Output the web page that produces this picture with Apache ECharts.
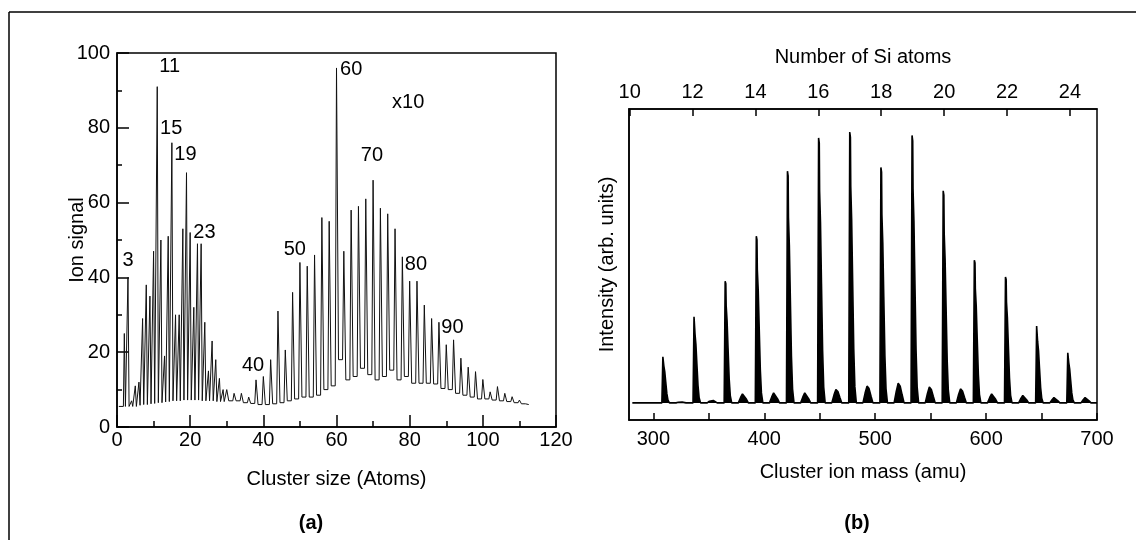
<!DOCTYPE html>
<html>
<head>
<meta charset="utf-8">
<script src="https://cdn.jsdelivr.net/npm/echarts@6/dist/echarts.min.js"></script>
<style>
html,body{margin:0;padding:0;background:#fff;}
#chart{width:1136px;height:540px;}
</style>
</head>
<body>
<div id="chart"></div>
<script>
// ---------- Panel (a): cluster size spectrum ----------
const lowSizes   = [2,3,4,5,6,7,8,9,10,11,12,13,14,15,16,17,18,19,20,21,22,23,24,25,26,27,28,29];
const lowPeaks   = [25,40,7,11,12,29,38,35,47,91,50,19,51,76,30,30,53,68,52,32,49,49,28,15,23,18,13,10];
const lowValleys = [5.5,5.5,5.5,5.5,5.8,6,6,6.2,6.3,6.5,6.5,6.7,6.8,7,7,7,7.2,7.2,7.2,7.2,7.2,7,7,7,7,6.8,6.8,6.8];

const highSizes   = [30,32,34,36,38,40,42,44,46,48,50,52,54,56,58,60,62,64,66,68,70,72,74,76,78,80,82,84,86,88,90,92,94,96,98,100,102,104,106,108,110,112];
const highPeaks   = [10,9,9,8,12.6,13.5,18,31,20.6,36,44,43,46,56,55,96,47,58,59,61,66,58.5,57,53,45.5,39,39,32.6,29,28,22,23.3,18.4,16,14.8,12.7,9.4,10.8,9,8.1,7.2,6.3];
const highValleys = [7,7,6.5,6.3,6,6,6.2,6.5,7,7.5,8,8,8.5,10,11,18,12.6,13.5,15.7,14,12.6,13.5,15.2,12.6,13.5,11.7,11.7,11.7,11.5,10.3,10,9,8.5,8,7.5,7.5,7.2,7,6.8,6.5,6.2,6];
const startLevelA = 5.5;

const annotationText = ['3','11','15','19','23','40','50','60','x10','70','80','90'];
const annotationX    = [3.05,14.4,14.8,18.7,23.9,37.2,48.6,64,79.6,69.7,81.7,91.7];
const annotationY    = [44.4,96.5,79.7,72.9,52,16.4,47.5,95.6,86.8,72.6,43.4,26.7];

// ---------- Panel (b): Si cluster mass spectrum ----------
const siAtoms      = [11,12,13,14,15,16,17,18,19,20,21,22,23,24];
const siPeaks      = [20.3,33.2,44.6,59.1,80,90.7,92.6,81.2,91.5,73.7,51.4,46,30.2,21.6];
const siOxideBumps = [5.8,6.4,8.4,8.7,8.7,9.8,10.9,11.8,10.6,10,8.4,7.9,7.2,7.2];
const siBaseline   = 5.5;
const SI_MASS = 28.0855, O_MASS = 15.999;

const massLabels = [300,400,500,600,700];
const massTicks  = [300,350,400,450,500,550,600,650,700];
const atomLabels = [10,12,14,16,18,20,22,24];

// ---------- build line data ----------
function spectrumA(){
  const pts = [[0.5, startLevelA]];
  let prev = startLevelA;
  lowSizes.forEach((n,i)=>{
    pts.push([n-0.25, prev],[n, lowPeaks[i]],[n+0.3, lowValleys[i]]);
    prev = lowValleys[i];
  });
  highSizes.forEach((n,i)=>{
    pts.push([n-0.35, prev],[n, highPeaks[i]],[n+0.55, highValleys[i]]);
    prev = highValleys[i];
  });
  return pts;
}
// peak outline (style template): [offset amu, fraction of height]
const peakShape = [[-1.3,0],[-0.8,0.55],[-0.4,1.0],[0.2,0.98],[0.5,0.8],[1.3,0.68],[2.2,0.45],[3.2,0.2],[4.2,0.06],[5.5,0]];
const bumpShape = [[-4.5,0],[-2.5,0.6],[-0.8,1],[1,0.85],[2.8,0.4],[4.5,0]];
function spectrumB(){
  const pts = [[281, siBaseline]];
  siAtoms.forEach((n,i)=>{
    const m = n*SI_MASS;
    peakShape.forEach(([dx,f])=>pts.push([m+dx, siBaseline+(siPeaks[i]-siBaseline)*f]));
    const mo = m+O_MASS;
    bumpShape.forEach(([dx,f])=>pts.push([mo+dx, siBaseline+(siOxideBumps[i]-siBaseline)*f]));
  });
  pts.push([700, siBaseline]);
  return pts;
}

const FONT = "'Liberation Sans', Arial, Helvetica, sans-serif";
const lbl = {color:'#000', fontFamily:FONT, fontSize:20};
const nameStyle = {color:'#000', fontFamily:FONT, fontSize:20};
const axLine = {show:true, lineStyle:{color:'#000', width:1.5}};

const chart = echarts.init(document.getElementById('chart'), null, {renderer:'canvas'});
chart.setOption({
  animation:false,
  backgroundColor:'#fff',
  grid:[
    {left:117, top:53, width:439, height:374, show:true, borderColor:'#000', borderWidth:1.5, containLabel:false},
    {left:629, top:109, width:468, height:311, show:true, borderColor:'#000', borderWidth:1.5, containLabel:false}
  ],
  xAxis:[
    {gridIndex:0, type:'value', min:0, max:120, interval:20, position:'bottom',
     axisLine:axLine, axisTick:{inside:true, length:12, lineStyle:{color:'#000', width:1.5}},
     minorTick:{show:true, splitNumber:2, length:6, lineStyle:{color:'#000', width:1.5}},
     axisLabel:Object.assign({margin:3}, lbl), splitLine:{show:false},
     name:'Cluster size (Atoms)', nameLocation:'middle', nameGap:42, nameMoveOverlap:false, nameTextStyle:nameStyle},
    {gridIndex:1, type:'value', min:278, max:700, position:'bottom',
     axisLine:axLine,
     axisTick:{inside:true, length:7, customValues:massTicks, lineStyle:{color:'#000', width:1.5}},
     axisLabel:Object.assign({margin:9, customValues:massLabels}, lbl), splitLine:{show:false},
     name:'Cluster ion mass (amu)', nameLocation:'middle', nameGap:42, nameMoveOverlap:false, nameTextStyle:nameStyle},
    {gridIndex:1, type:'value', min:9.98, max:24.86, position:'top',
     axisLine:axLine,
     axisTick:{inside:true, length:7, customValues:atomLabels, lineStyle:{color:'#000', width:1.5}},
     axisLabel:Object.assign({margin:7, customValues:atomLabels}, lbl), splitLine:{show:false},
     name:'Number of Si atoms', nameLocation:'middle', nameGap:42, nameMoveOverlap:false, nameTextStyle:nameStyle}
  ],
  yAxis:[
    {gridIndex:0, type:'value', min:0, max:100, interval:20,
     axisLine:axLine, axisTick:{inside:true, length:12, lineStyle:{color:'#000', width:1.5}},
     minorTick:{show:true, splitNumber:2, length:5, lineStyle:{color:'#000', width:1.5}},
     axisLabel:Object.assign({margin:7}, lbl), splitLine:{show:false},
     name:'Ion signal', nameLocation:'middle', nameGap:30, nameMoveOverlap:false, nameTextStyle:nameStyle},
    {gridIndex:1, type:'value', min:0, max:100,
     axisLine:axLine, axisTick:{show:false}, axisLabel:{show:false}, splitLine:{show:false},
     name:'Intensity (arb. units)', nameLocation:'middle', nameGap:12, nameMoveOverlap:false, nameTextStyle:nameStyle}
  ],
  series:[
    {type:'line', xAxisIndex:0, yAxisIndex:0, data:spectrumA(), symbol:'none',
     lineStyle:{color:'#111', width:1}, z:3},
    {type:'scatter', xAxisIndex:0, yAxisIndex:0, symbolSize:0, itemStyle:{color:'#000', opacity:1},
     data:annotationText.map((t,i)=>({name:t, value:[annotationX[i], annotationY[i]]})),
     label:{show:true, position:'inside', formatter:p=>p.name, color:'#000', opacity:1, textBorderWidth:0, fontFamily:FONT, fontSize:20},
     emphasis:{disabled:true}, z:5},
    {type:'line', xAxisIndex:1, yAxisIndex:1, data:spectrumB(), symbol:'none',
     lineStyle:{color:'#000', width:1.6}, areaStyle:{color:'#000', opacity:1, origin:siBaseline}, z:3}
  ],
  graphic:[
    {type:'line', shape:{x1:9, y1:12, x2:1136, y2:12}, style:{stroke:'#000', lineWidth:1.5}},
    {type:'line', shape:{x1:9, y1:12, x2:9, y2:540}, style:{stroke:'#000', lineWidth:1.5}},
    {type:'text', x:311, y:523, style:{text:'(a)', font:'bold 20px '+FONT, fill:'#000', textAlign:'center', textVerticalAlign:'middle'}},
    {type:'text', x:857, y:523, style:{text:'(b)', font:'bold 20px '+FONT, fill:'#000', textAlign:'center', textVerticalAlign:'middle'}}
  ]
});
</script>
</body>
</html>
